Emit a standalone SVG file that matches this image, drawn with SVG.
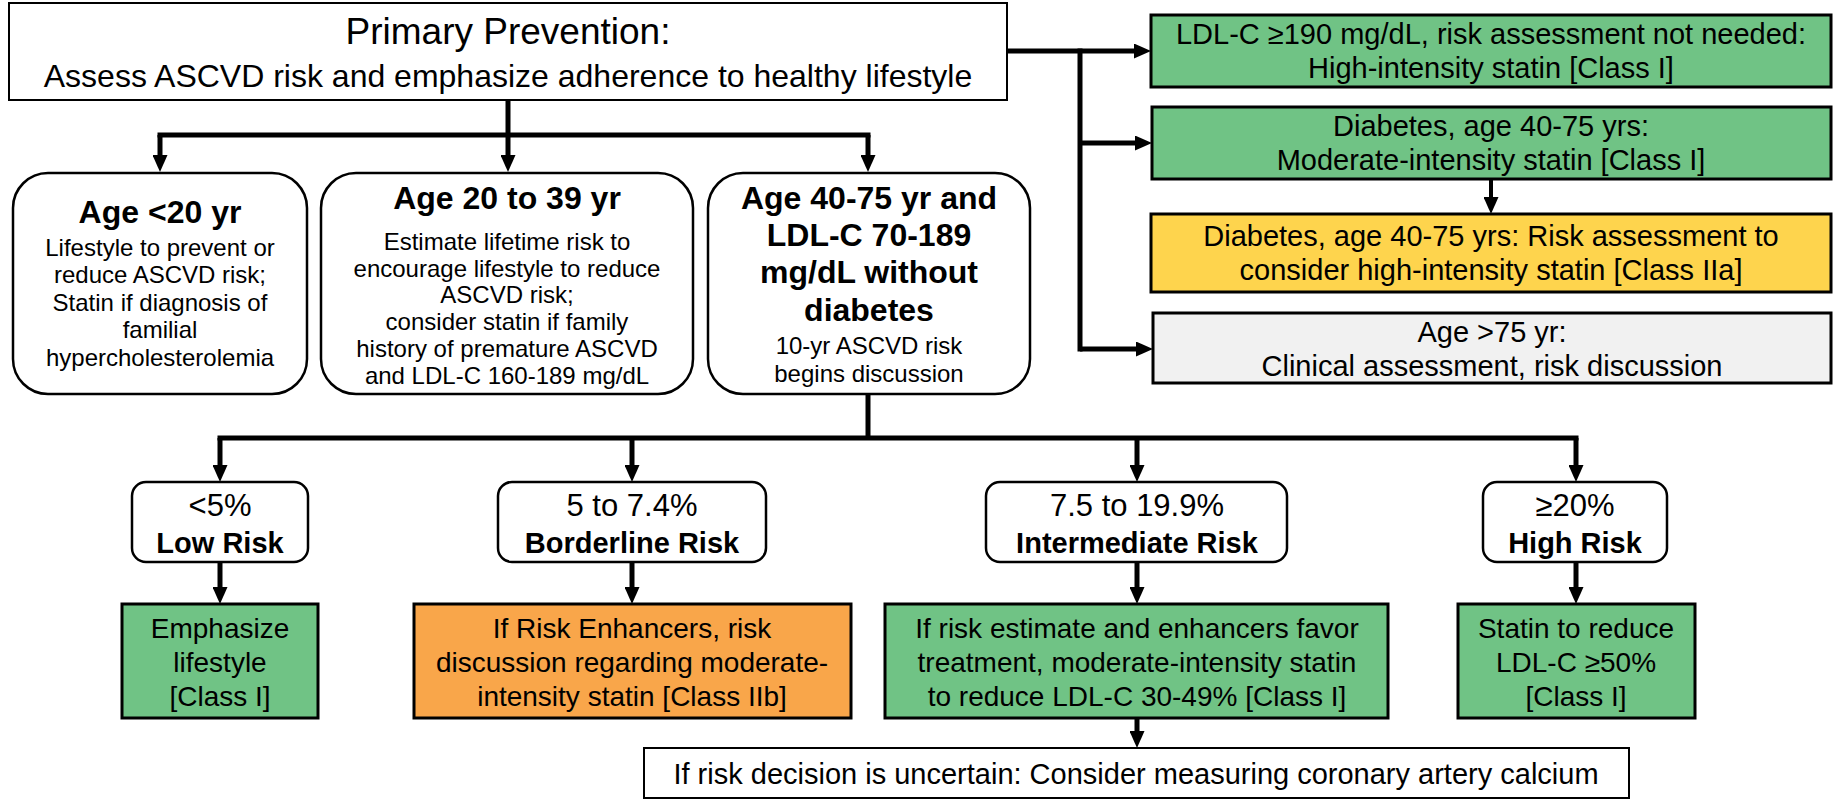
<svg xmlns="http://www.w3.org/2000/svg" width="1837" height="800" viewBox="0 0 1837 800">
<style>
text{font-family:"Liberation Sans",Arial,sans-serif;fill:#000;text-anchor:middle}
.b{font-weight:bold}
.plain{fill:#fff;stroke:#000;stroke-width:2}
.round{fill:#fff;stroke:#000;stroke-width:2.5}
.green{fill:#70C385;stroke:#000;stroke-width:3}
.yellow{fill:#FED44D;stroke:#000;stroke-width:3}
.orange{fill:#F9A64A;stroke:#000;stroke-width:3}
.gray{fill:#F1F1F1;stroke:#000;stroke-width:3}
.c{fill:none;stroke:#000;stroke-width:5}
.a{fill:none;stroke:#000;stroke-width:5;marker-end:url(#ah)}
.bar{fill:none;stroke:#000;stroke-width:5;stroke-linecap:square}
</style>
<defs>
<marker id="ah" markerUnits="userSpaceOnUse" markerWidth="17" markerHeight="15" refX="7" refY="7.5" orient="auto">
<path d="M0,0 L17,7.5 L0,15 z" fill="#000"/>
</marker>
</defs>
<g id="connectors">
<path class="c" d="M508,100 V135"/>
<path class="bar" d="M160,135 H868"/>
<path class="a" d="M160,135 V162"/>
<path class="a" d="M508,135 V162"/>
<path class="a" d="M868,135 V162"/>
<path class="c" d="M1007,51 H1080"/>
<path class="a" d="M1080,51 H1141"/>
<path class="bar" d="M1080,51 V349"/>
<path class="a" d="M1080,143 H1142"/>
<path class="a" d="M1080,349 H1143"/>
<path class="a" style="stroke-width:4" d="M1491,179 V204"/>
<path class="c" d="M868,393 V438"/>
<path class="bar" d="M220,438 H1576"/>
<path class="a" d="M220,438 V472"/>
<path class="a" d="M632,438 V472"/>
<path class="a" d="M1137,438 V472"/>
<path class="a" d="M1576,438 V472"/>
<path class="a" d="M220,562 V594"/>
<path class="a" d="M632,562 V594"/>
<path class="a" d="M1137,562 V594"/>
<path class="a" d="M1576,562 V594"/>
<path class="a" d="M1137,718 V738"/>
</g>
<g id="top">
<rect class="plain" x="9" y="3" width="998" height="97"/>
<text x="508" y="44" font-size="37">Primary Prevention:</text>
<text x="508" y="87" font-size="32">Assess ASCVD risk and emphasize adherence to healthy lifestyle</text>
</g>
<g id="r1">
<rect class="green" x="1151" y="15" width="680" height="72"/>
<text x="1491" y="44" font-size="29">LDL-C ≥190 mg/dL, risk assessment not needed:</text>
<text x="1491" y="78" font-size="29">High-intensity statin [Class I]</text>
</g>
<g id="r2">
<rect class="green" x="1152" y="107" width="679" height="72"/>
<text x="1491" y="136" font-size="29">Diabetes, age 40-75 yrs:</text>
<text x="1491" y="170" font-size="29">Moderate-intensity statin [Class I]</text>
</g>
<g id="r3">
<rect class="yellow" x="1151" y="214" width="680" height="78"/>
<text x="1491" y="246" font-size="29">Diabetes, age 40-75 yrs: Risk assessment to</text>
<text x="1491" y="280" font-size="29">consider high-intensity statin [Class IIa]</text>
</g>
<g id="r4">
<rect class="gray" x="1153" y="313" width="678" height="70"/>
<text x="1492" y="342" font-size="29">Age &gt;75 yr:</text>
<text x="1492" y="376" font-size="29">Clinical assessment, risk discussion</text>
</g>
<g id="b1">
<rect class="round" x="13" y="173" width="294" height="221" rx="35"/>
<text class="b" x="160" y="223" font-size="32">Age &lt;20 yr</text>
<text x="160" y="256" font-size="24">Lifestyle to prevent or</text>
<text x="160" y="283" font-size="24">reduce ASCVD risk;</text>
<text x="160" y="311" font-size="24">Statin if diagnosis of</text>
<text x="160" y="338" font-size="24">familial</text>
<text x="160" y="366" font-size="24">hypercholesterolemia</text>
</g>
<g id="b2">
<rect class="round" x="321" y="173" width="372" height="221" rx="35"/>
<text class="b" x="507" y="209" font-size="32">Age 20 to 39 yr</text>
<text x="507" y="250" font-size="24">Estimate lifetime risk to</text>
<text x="507" y="277" font-size="24">encourage lifestyle to reduce</text>
<text x="507" y="303" font-size="24">ASCVD risk;</text>
<text x="507" y="330" font-size="24">consider statin if family</text>
<text x="507" y="357" font-size="24">history of premature ASCVD</text>
<text x="507" y="384" font-size="24">and LDL-C 160-189 mg/dL</text>
</g>
<g id="b3">
<rect class="round" x="708" y="173" width="322" height="221" rx="35"/>
<text class="b" x="869" y="209" font-size="32">Age 40-75 yr and</text>
<text class="b" x="869" y="246" font-size="32">LDL-C 70-189</text>
<text class="b" x="869" y="283" font-size="32">mg/dL without</text>
<text class="b" x="869" y="321" font-size="32">diabetes</text>
<text x="869" y="354" font-size="24">10-yr ASCVD risk</text>
<text x="869" y="382" font-size="24">begins discussion</text>
</g>
<g id="low">
<rect class="round" x="132" y="482" width="176" height="80" rx="14"/>
<text x="220" y="516" font-size="31">&lt;5%</text>
<text class="b" x="220" y="553" font-size="29">Low Risk</text>
</g>
<g id="borderline">
<rect class="round" x="498" y="482" width="268" height="80" rx="14"/>
<text x="632" y="516" font-size="31">5 to 7.4%</text>
<text class="b" x="632" y="553" font-size="29">Borderline Risk</text>
</g>
<g id="intermediate">
<rect class="round" x="986" y="482" width="301" height="80" rx="14"/>
<text x="1137" y="516" font-size="31">7.5 to 19.9%</text>
<text class="b" x="1137" y="553" font-size="29">Intermediate Risk</text>
</g>
<g id="high">
<rect class="round" x="1483" y="482" width="184" height="80" rx="14"/>
<text x="1575" y="516" font-size="31">≥20%</text>
<text class="b" x="1575" y="553" font-size="29">High Risk</text>
</g>
<g id="res-low">
<rect class="green" x="122" y="604" width="196" height="114"/>
<text x="220" y="638" font-size="28">Emphasize</text>
<text x="220" y="672" font-size="28">lifestyle</text>
<text x="220" y="706" font-size="28">[Class I]</text>
</g>
<g id="res-borderline">
<rect class="orange" x="414" y="604" width="437" height="114"/>
<text x="632" y="638" font-size="28">If Risk Enhancers, risk</text>
<text x="632" y="672" font-size="28">discussion regarding moderate-</text>
<text x="632" y="706" font-size="28">intensity statin [Class IIb]</text>
</g>
<g id="res-intermediate">
<rect class="green" x="885" y="604" width="503" height="114"/>
<text x="1137" y="638" font-size="28">If risk estimate and enhancers favor</text>
<text x="1137" y="672" font-size="28">treatment, moderate-intensity statin</text>
<text x="1137" y="706" font-size="28">to reduce LDL-C 30-49% [Class I]</text>
</g>
<g id="res-high">
<rect class="green" x="1458" y="604" width="237" height="114"/>
<text x="1576" y="638" font-size="28">Statin to reduce</text>
<text x="1576" y="672" font-size="28">LDL-C ≥50%</text>
<text x="1576" y="706" font-size="28">[Class I]</text>
</g>
<g id="cac">
<rect class="plain" x="644" y="748" width="985" height="50"/>
<text x="1136" y="784" font-size="29">If risk decision is uncertain: Consider measuring coronary artery calcium</text>
</g>
</svg>
